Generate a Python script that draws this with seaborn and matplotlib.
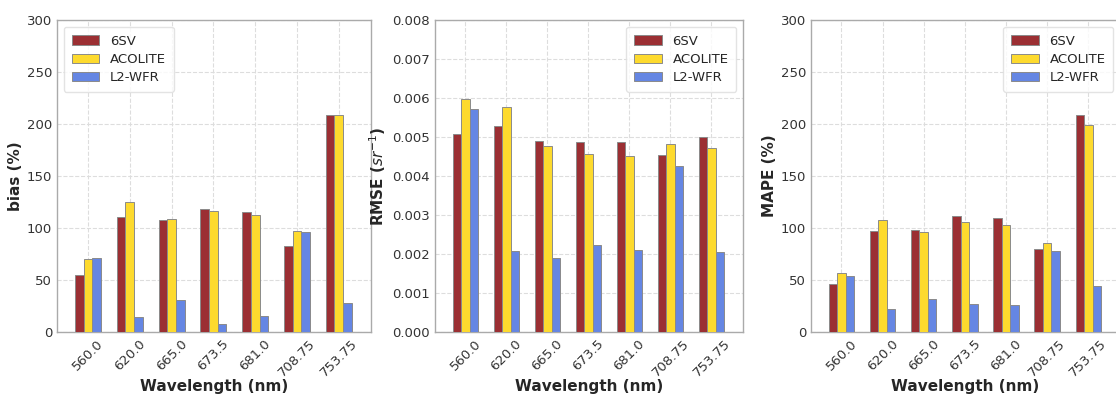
import numpy as np
import pandas as pd
import matplotlib
matplotlib.use("Agg")
import matplotlib.pyplot as plt
import seaborn as sns

wavelengths = ["560.0", "620.0", "665.0", "673.5", "681.0", "708.75", "753.75"]
methods = ["6SV", "ACOLITE", "L2-WFR"]

bias_6sv = [55, 111, 108, 118.5, 115, 83, 209]
bias_acolite = [70, 125, 108.5, 116, 112.5, 97, 209]
bias_l2wfr = [71, 14.5, 31, 8, 15, 96, 28]

rmse_6sv = [0.00507, 0.00528, 0.00491, 0.00488, 0.00486, 0.00454, 0.00500]
rmse_acolite = [0.00597, 0.00576, 0.00476, 0.00456, 0.00451, 0.00482, 0.00472]
rmse_l2wfr = [0.00571, 0.00207, 0.00190, 0.00223, 0.00210, 0.00425, 0.00205]

mape_6sv = [45.8, 96.7, 98.3, 111.4, 109.5, 79.4, 209]
mape_acolite = [56.7, 108, 96, 105.3, 102.8, 86, 199.5]
mape_l2wfr = [54, 22, 31.4, 27.2, 26.3, 77.8, 44.5]

colors = ["#9B2F33", "#FDDA2E", "#6586E3"]


def long_df(a, b, c):
    rows = []
    for m, vals in zip(methods, [a, b, c]):
        for w, v in zip(wavelengths, vals):
            rows.append({"Wavelength": w, "Method": m, "Value": v})
    return pd.DataFrame(rows)


sns.set_style("white")
plt.rcParams["font.family"] = ["DejaVu Sans"]

fig = plt.figure(figsize=(11.16, 3.94), dpi=100)
positions = [
    [57 / 1116, 62 / 394, 314 / 1116, 312 / 394],
    [435 / 1116, 62 / 394, 308 / 1116, 312 / 394],
    [811 / 1116, 62 / 394, 309 / 1116, 312 / 394],
]
panels = [
    (long_df(bias_6sv, bias_acolite, bias_l2wfr), "bias (%)", (0, 300), np.arange(0, 301, 50), "upper left"),
    (long_df(rmse_6sv, rmse_acolite, rmse_l2wfr), r"RMSE ($sr^{-1}$)", (0, 0.008), np.arange(0, 0.0081, 0.001), "upper right"),
    (long_df(mape_6sv, mape_acolite, mape_l2wfr), "MAPE (%)", (0, 300), np.arange(0, 301, 50), "upper right"),
]

for pos, (df, ylab, ylim, yticks, loc) in zip(positions, panels):
    ax = fig.add_axes(pos)
    sns.barplot(data=df, x="Wavelength", y="Value", hue="Method", order=wavelengths,
                hue_order=methods, palette=colors, saturation=1, width=0.62, gap=0,
                edgecolor="#8a8a8a", linewidth=0.7, ax=ax, zorder=3)
    ax.set_xlim(-0.74, 6.77)
    ax.set_ylim(*ylim)
    ax.set_yticks(yticks)
    if ylim[1] < 1:
        ax.set_yticklabels([f"{t:.3f}" for t in yticks])
    else:
        ax.set_yticklabels([f"{int(t)}" for t in yticks])
    ax.grid(True, linestyle="--", color="#dddddd", linewidth=0.8, zorder=0)
    ax.set_axisbelow(True)
    for s in ax.spines.values():
        s.set_color("#aaaaaa")
        s.set_linewidth(1.0)
    ax.tick_params(axis="x", labelrotation=45, labelsize=9.5, labelcolor="#333333",
                   color="#aaaaaa", length=3, pad=0.5)
    ax.tick_params(axis="y", labelsize=9.5, labelcolor="#333333",
                   color="#aaaaaa", length=3, pad=0.5)
    for lbl in ax.get_xticklabels():
        lbl.set_ha("center")
    ax.set_xlabel("Wavelength (nm)", fontsize=11, fontweight="bold", labelpad=0)
    ax.set_ylabel(ylab, fontsize=11, fontweight="bold", labelpad=3)
    leg = ax.legend(loc=loc, fontsize=9.5, frameon=True, handlelength=2.1, borderpad=0.6,
                    labelspacing=0.4, handletextpad=0.8)
    leg.get_frame().set_edgecolor("#dddddd")

fig.savefig("out.png", dpi=100)
